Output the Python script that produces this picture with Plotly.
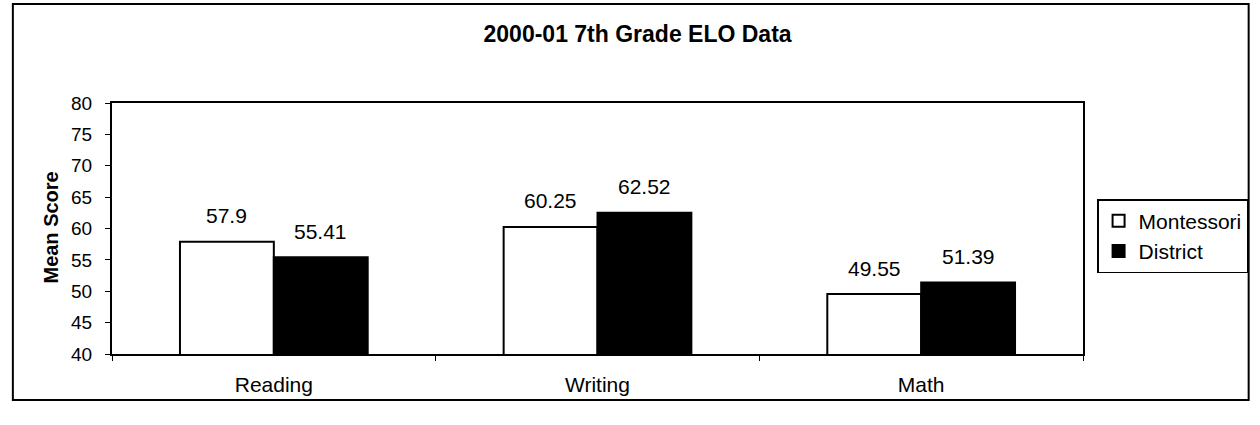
import plotly.graph_objects as go

categories = ["Reading", "Writing", "Math"]
montessori = [57.9, 60.25, 49.55]
district = [55.41, 62.52, 51.39]
y_ticks = [40, 45, 50, 55, 60, 65, 70, 75, 80]

FONT = "Arial, Liberation Sans, sans-serif"
BARGAP = 0.42

fig = go.Figure()
fig.add_trace(go.Bar(name="Montessori", x=categories, y=montessori,
                     marker=dict(color="white", line=dict(color="black", width=2))))
fig.add_trace(go.Bar(name="District", x=categories, y=district,
                     marker=dict(color="black", line=dict(color="black", width=2))))

# data labels above each bar
half = (1 - BARGAP) / 4
for i, c in enumerate(categories):
    for off, vals in ((-half, montessori), (half, district)):
        fig.add_annotation(x=i + off, y=vals[i], xref="x", yref="y",
                           text=str(vals[i]), showarrow=False, yshift=26,
                           font=dict(family=FONT, size=21, color="black"))

# y axis title
fig.add_annotation(x=-0.0633, y=0.502, xref="paper", yref="paper", text="<b>Mean Score</b>",
                   textangle=-90, showarrow=False, xanchor="center", yanchor="middle",
                   font=dict(family=FONT, size=20, color="black"))

# outer chart border
fig.add_shape(type="rect", xref="paper", yref="paper", x0=-0.1021, x1=1.1706, y0=-0.1833, y1=1.3944,
              line=dict(color="black", width=2), fillcolor="rgba(0,0,0,0)")

fig.update_layout(
    width=1260, height=425,
    margin=dict(l=112, r=169, t=103, b=71),
    paper_bgcolor="white", plot_bgcolor="white",
    barmode="group", bargap=BARGAP, bargroupgap=0,
    title=dict(text="<b>2000-01 7th Grade ELO Data</b>", x=0.506, xref="container", y=0.92,
               yref="container", xanchor="center", yanchor="middle",
               font=dict(family=FONT, size=23, color="black")),
    font=dict(family=FONT, size=21, color="black"),
    legend=dict(x=1.0145, y=0.6175, xanchor="left", yanchor="top", bordercolor="black", borderwidth=1.5,
                bgcolor="white", font=dict(family=FONT, size=21, color="black"),
                itemwidth=30, tracegroupgap=2),
    showlegend=True,
)
fig.update_xaxes(showline=True, linecolor="black", linewidth=2, mirror=True,
                 ticks="outside", tickson="boundaries", ticklen=5, tickcolor="black",
                 tickfont=dict(size=21), ticklabelstandoff=11, showgrid=False)
fig.update_yaxes(range=[40, 80], tickvals=y_ticks, showline=True, linecolor="black", linewidth=2,
                 mirror=True, ticks="outside", ticklen=5, tickcolor="black", showgrid=False,
                 tickfont=dict(size=19), ticklabelstandoff=9, zeroline=False)

fig.write_html("out.html", config={"displayModeBar": False},
               post_script="document.body.style.margin='0px';")
